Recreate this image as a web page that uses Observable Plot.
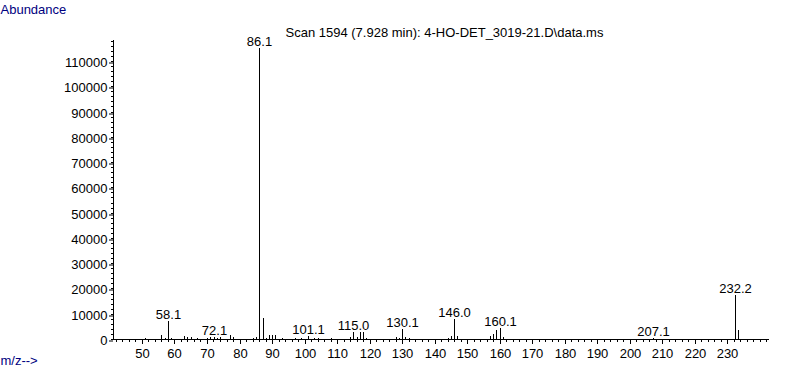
<!DOCTYPE html>
<html>
<head>
<meta charset="utf-8">
<script src="https://cdn.jsdelivr.net/npm/d3@7"></script>
<script src="https://cdn.jsdelivr.net/npm/@observablehq/plot@0.6"></script>
<style>
  html, body { margin: 0; padding: 0; background: #fff; }
  #chart { width: 787px; height: 367px; }
</style>
</head>
<body>
<div id="chart"></div>
<script>
// Spectrum peaks (m/z and abundance)
const mz = [51, 56, 57, 58.1, 59, 63, 64, 65, 67, 70, 71, 72.1, 73, 74, 77, 78, 84, 85,
  86.1, 87.1, 88, 89, 90, 91, 93, 97, 99, 101.1, 103, 104, 108, 114, 115.0, 116, 117, 118, 119,
  128, 129, 130.1, 131, 132, 144, 145, 146.0, 147, 157, 158, 159, 160.1, 161, 207.1, 232.2, 233.2];
const abundance = [400, 1700, 500, 7100, 400, 1000, 700, 600, 300, 500, 600, 800, 500, 600, 1400, 600, 500, 900,
  115300, 8200, 500, 1500, 1500, 1500, 500, 300, 400, 1000, 400, 500, 300, 700, 2600, 600, 2600, 2600, 500,
  700, 400, 3800, 800, 400, 500, 1200, 8000, 1200, 1000, 1800, 3400, 4200, 700, 300, 17500, 3600];
const peakLabels = ["58.1", "72.1", "86.1", "101.1", "115.0", "130.1", "146.0", "160.1", "207.1", "232.2"];
const xTicks = [50, 60, 70, 80, 90, 100, 110, 120, 130, 140, 150, 160, 170, 180, 190, 200, 210, 220, 230];
const yTicks = [0, 10000, 20000, 30000, 40000, 50000, 60000, 70000, 80000, 90000, 100000, 110000];
const titleText = "Scan 1594 (7.928 min): 4-HO-DET_3019-21.D\\data.ms";
const yLabel = "Abundance";
const xLabel = "m/z-->";

const peaks = mz.map((m, i) => ({mz: m, ab: abundance[i]}));
const labels = peakLabels.map(t => {
  const m = +t;
  const p = peaks.reduce((a, b) => Math.abs(b.mz - m) < Math.abs(a.mz - m) ? b : a);
  return {mz: m, ab: p.ab, text: t};
});
const xMinor = d3.range(42, 243, 2);
const yMinor = d3.range(0, 118001, 2000);
const xMin = 41.1, xMax = 242.8;

const navy = "#000080";
const chart = Plot.plot({
  width: 787,
  height: 367,
  marginLeft: 113,
  marginRight: 18,
  marginTop: 40,
  marginBottom: 28,
  style: {fontFamily: "Arial, 'Liberation Sans', sans-serif", fontSize: "13px", background: "#fff", color: "#000"},
  x: {domain: [xMin, xMax], round: true},
  y: {domain: [0, 118300], round: true},
  marks: [
    Plot.axisX({ticks: xMinor, tickSize: 3, text: null, stroke: "#000", strokeOpacity: 1, label: null}),
    Plot.axisX({ticks: xTicks, tickSize: 5, tickPadding: 4, stroke: "#000", strokeOpacity: 1, fill: "#000", fontSize: 13, label: null}),
    Plot.axisY({ticks: yMinor, tickSize: 2, text: null, stroke: "#000", strokeOpacity: 1, label: null}),
    Plot.axisY({ticks: yTicks, tickSize: 4, tickPadding: 2, dy: 1.5, stroke: "#000", strokeOpacity: 1, fill: "#000", fontSize: 13, tickFormat: d => String(d), label: null}),
    Plot.ruleY([0], {stroke: "#000"}),
    Plot.ruleX([xMin], {stroke: "#000"}),
    Plot.ruleX(peaks, {x: "mz", y1: 0, y2: "ab", stroke: "#000", strokeWidth: 1}),
    Plot.text(labels, {x: "mz", y: "ab", text: "text", lineAnchor: "bottom", dy: -3, fill: "#000", fontSize: 13}),
    Plot.text([yLabel], {frameAnchor: "top-left", text: d => d, textAnchor: "start", lineAnchor: "bottom", dx: -113, dy: -27, fill: navy, fontSize: 13}),
    Plot.text([xLabel], {frameAnchor: "bottom-left", text: d => d, textAnchor: "start", lineAnchor: "bottom", dx: -113, dy: 25, fill: navy, fontSize: 13}),
    Plot.text([titleText], {frameAnchor: "top-left", text: d => d, textAnchor: "start", lineAnchor: "bottom", dx: 172, dy: -3.5, fill: "#000", fontSize: 13})
  ]
});
document.getElementById("chart").appendChild(chart);
</script>
</body>
</html>
